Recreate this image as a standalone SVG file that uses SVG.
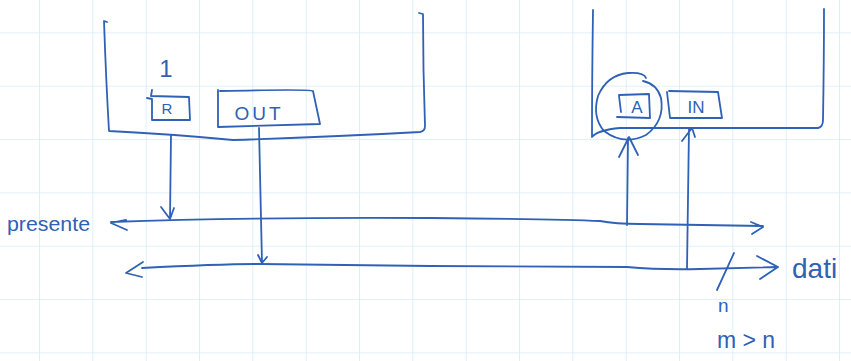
<svg xmlns="http://www.w3.org/2000/svg" width="851" height="361" viewBox="0 0 851 361">
<defs>
<pattern id="grid" x="-13.33" y="-20" width="53.333" height="53.333" patternUnits="userSpaceOnUse">
<path d="M53.333 0V53.333M0 53.333H53.333" fill="none" stroke="#d7ecf9" stroke-width="1.6"/>
</pattern>
<style>
.ink{fill:none;stroke:#2f61b6;stroke-width:1.8;stroke-linecap:round;stroke-linejoin:round}
.t{fill:#2f61b6;font-family:"Liberation Sans",Arial,sans-serif}
</style>
</defs>
<rect width="851" height="361" fill="#ffffff"/>
<rect width="851" height="361" fill="url(#grid)"/>

<g id="box1">
<path class="ink" d="M107 22L104 21Q106 80 109 131Q170 134 233 140Q330 137 420 132Q425 131 425 126Q423 70 423 14L419 13"/>
<text class="t" x="166" y="77" font-size="24" text-anchor="middle">1</text>
</g>
<g id="R">
<path class="ink" d="M147 98L152 99L152 120L190 120L189 97L151 96L152 90"/>
<text class="t" x="167" y="114" font-size="15" text-anchor="middle">R</text>
</g>
<g id="OUT">
<path class="ink" d="M218 90L218 127L320 124L313 91Q310 89 220 91"/>
<text class="t" x="259" y="120" font-size="19" text-anchor="middle" letter-spacing="3">OUT</text>
</g>

<g id="box2">
<path class="ink" d="M593 10Q592 80 592 137Q598 130 620 128L818 128Q823 127 823 120Q824 60 824 9"/>
</g>
<g id="A">
<path class="ink" d="M619 95L649 94L650 118L617 117M619 96L621 112"/>
<path class="ink" d="M643 81Q657 84 661 98Q665 121 646 135Q624 146 604 131Q592 117 598 96Q607 75 628 73Q644 72 646 78"/>
<text class="t" x="637" y="113" font-size="17" text-anchor="middle">A</text>
</g>
<g id="IN">
<path class="ink" d="M667 92L670 118L722 118L718 92L669 91"/>
<text class="t" x="696" y="113" font-size="17" text-anchor="middle">IN</text>
</g>

<g id="connectors">
<path class="ink" d="M171 135L170 219M161 207L170 219L174 208"/>
<path class="ink" d="M259 128L262 263M258 255L262 263L267 257"/>
<path class="ink" d="M111 222Q250 217 430 218Q560 219 600 221Q615 224 640 224L763 226M126 220L111 223L127 230M751 222L763 227L752 234"/>
<path class="ink" d="M142 268Q220 264 260 264L430 266L627 267Q660 270 700 269L778 267M143 262L126 273L142 277M757 256L778 267L760 279"/>
<path class="ink" d="M734 253L717 290"/>
<path class="ink" d="M627 225L628 138M619 157L629 137L638 155"/>
<path class="ink" d="M687 269L689 128M682 141L692 128L695 137"/>
</g>

<g id="labels">
<text class="t" x="7" y="231" font-size="21" textLength="83" lengthAdjust="spacingAndGlyphs">presente</text>
<text class="t" x="792" y="278" font-size="28">dati</text>
<text class="t" x="718" y="312" font-size="19">n</text>
<text class="t" x="717" y="348" font-size="23">m &gt; n</text>
</g>
</svg>
